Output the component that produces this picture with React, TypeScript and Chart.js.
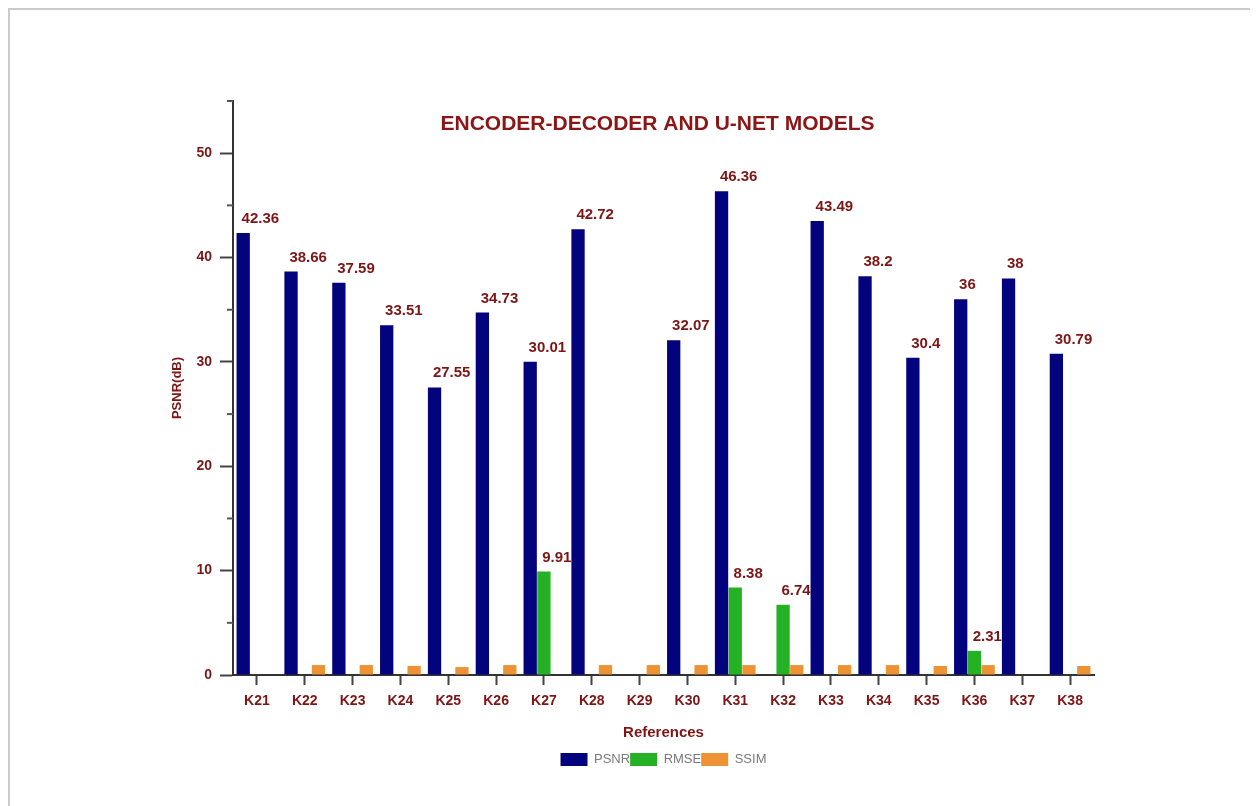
import React, { useEffect, useRef } from "react";
import { Chart, registerables } from "chart.js";

Chart.register(...registerables);

const categories = ["K21", "K22", "K23", "K24", "K25", "K26", "K27", "K28", "K29", "K30", "K31", "K32", "K33", "K34", "K35", "K36", "K37", "K38"];
const psnrValues = [42.36, 38.66, 37.59, 33.51, 27.55, 34.73, 30.01, 42.72, null, 32.07, 46.36, null, 43.49, 38.2, 30.4, 36, 38, 30.79];
const rmseValues = [null, null, null, null, null, null, 9.91, null, null, null, 8.38, 6.74, null, null, null, 2.31, null, null];
const ssimValues = [null, 0.95, 0.95, 0.87, 0.76, 0.95, null, 0.95, 0.95, 0.95, 0.95, 0.95, 0.95, 0.95, 0.86, 0.95, null, 0.86];
const seriesNames = ["PSNR", "RMSE", "SSIM"];
const yMajorTicks = [0, 10, 20, 30, 40, 50];

const DARK_RED = "#7d1515";
const TITLE = "ENCODER-DECODER AND U-NET MODELS";
const FONT = "Arial, 'Liberation Sans', sans-serif";

const titlePlugin = {
  id: "innerTitle",
  afterDraw(chart: any) {
    const { ctx, chartArea } = chart;
    ctx.save();
    ctx.font = `bold 21px ${FONT}`;
    ctx.fillStyle = "#8a1616";
    ctx.textAlign = "center";
    ctx.textBaseline = "middle";
    ctx.fillText(TITLE, (chartArea.left + chartArea.right) / 2 - 6, chartArea.top + 23);
    ctx.restore();
  },
};

const minorTickPlugin = {
  id: "minorTicks",
  afterDraw(chart: any) {
    const { ctx } = chart;
    const y = chart.scales.y;
    ctx.save();
    ctx.strokeStyle = "#555";
    ctx.lineWidth = 2;
    y.ticks.forEach((t: any) => {
      if (!yMajorTicks.includes(t.value)) {
        const py = y.getPixelForValue(t.value);
        ctx.beginPath();
        ctx.moveTo(y.right - 6, py);
        ctx.lineTo(y.right, py);
        ctx.stroke();
      }
    });
    ctx.restore();
  },
};

const valueLabelPlugin = {
  id: "valueLabels",
  afterDatasetsDraw(chart: any) {
    const { ctx } = chart;
    ctx.save();
    ctx.font = `bold 15px ${FONT}`;
    ctx.fillStyle = DARK_RED;
    ctx.textAlign = "left";
    ctx.textBaseline = "alphabetic";
    [0, 1].forEach((di) => {
      const meta = chart.getDatasetMeta(di);
      const data = chart.data.datasets[di].data;
      meta.data.forEach((el: any, i: number) => {
        const v = data[i];
        if (v === null || v === undefined) return;
        ctx.fillText(String(v), el.x - el.width / 2 + 5, el.y - 10);
      });
    });
    ctx.restore();
  },
};

export default function App() {
  const ref = useRef<HTMLCanvasElement | null>(null);

  useEffect(() => {
    document.body.style.overflow = "hidden";
    const canvas = ref.current;
    if (!canvas) return;
    const chart = new Chart(canvas, {
      type: "bar",
      data: {
        labels: categories,
        datasets: [
          { label: seriesNames[0], data: psnrValues, backgroundColor: "#03037e", borderWidth: 0 },
          { label: seriesNames[1], data: rmseValues, backgroundColor: "#24b224", borderWidth: 0 },
          { label: seriesNames[2], data: ssimValues, backgroundColor: "#ee9335", borderWidth: 0 },
        ],
      },
      options: {
        responsive: false,
        animation: false,
        devicePixelRatio: 1,
        layout: { padding: { left: 170, right: 164, top: 101, bottom: 30 } },
        datasets: { bar: { categoryPercentage: 0.86, barPercentage: 0.97 } },
        plugins: {
          title: { display: false },
          tooltip: { enabled: false },
          legend: {
            display: true,
            position: "bottom",
            fullSize: false,
            labels: {
              boxWidth: 27,
              boxHeight: 13,
              padding: 0,
              color: "#7a7a7a",
              font: { family: FONT, size: 13 },
            },
          },
        },
        scales: {
          x: {
            afterFit: (s: any) => { s.height = 78; },
            grid: { display: true, drawOnChartArea: false, offset: false, tickLength: 10, tickColor: "#444", tickWidth: 2 },
            border: { display: true, color: "#333", width: 2 },
            ticks: {
              padding: 8,
              color: DARK_RED,
              font: { family: FONT, size: 14, weight: "bold" },
            },
            title: {
              display: true,
              text: "References",
              color: DARK_RED,
              padding: { top: 0, bottom: 11 },
              font: { family: FONT, size: 15, weight: "bold" },
            },
          },
          y: {
            min: 0,
            max: 55,
            afterFit: (s: any) => { s.width = 63; },
            grid: {
              display: true,
              drawOnChartArea: false,
              tickLength: 13,
              tickWidth: 2,
              tickColor: (c: any) => (yMajorTicks.includes(c.tick.value) ? "#444" : "rgba(0,0,0,0)"),
            },
            border: { display: true, color: "#333", width: 2 },
            ticks: {
              stepSize: 5,
              padding: 8,
              color: DARK_RED,
              font: { family: FONT, size: 14, weight: "bold" },
              callback: (v: any) => (yMajorTicks.includes(Number(v)) ? String(v) : ""),
            },
            title: {
              display: true,
              text: "PSNR(dB)",
              color: DARK_RED,
              padding: { top: 0, bottom: 0 },
              font: { family: FONT, size: 13, weight: "bold" },
            },
          },
        },
      },
      plugins: [titlePlugin, minorTickPlugin, valueLabelPlugin],
    });
    return () => chart.destroy();
  }, []);

  return (
    <div
      style={{
        position: "relative",
        width: 1262,
        height: 812,
        borderTop: "2px solid #cbcbcb",
        borderLeft: "2px solid #cbcbcb",
        boxShadow: "0 0 3px rgba(0,0,0,0.12)",
        background: "#ffffff",
      }}
    >
      <canvas
        ref={ref}
        width={1258}
        height={806}
        style={{ position: "absolute", left: -10, top: -10, width: 1258, height: 806 }}
      />
    </div>
  );
}
